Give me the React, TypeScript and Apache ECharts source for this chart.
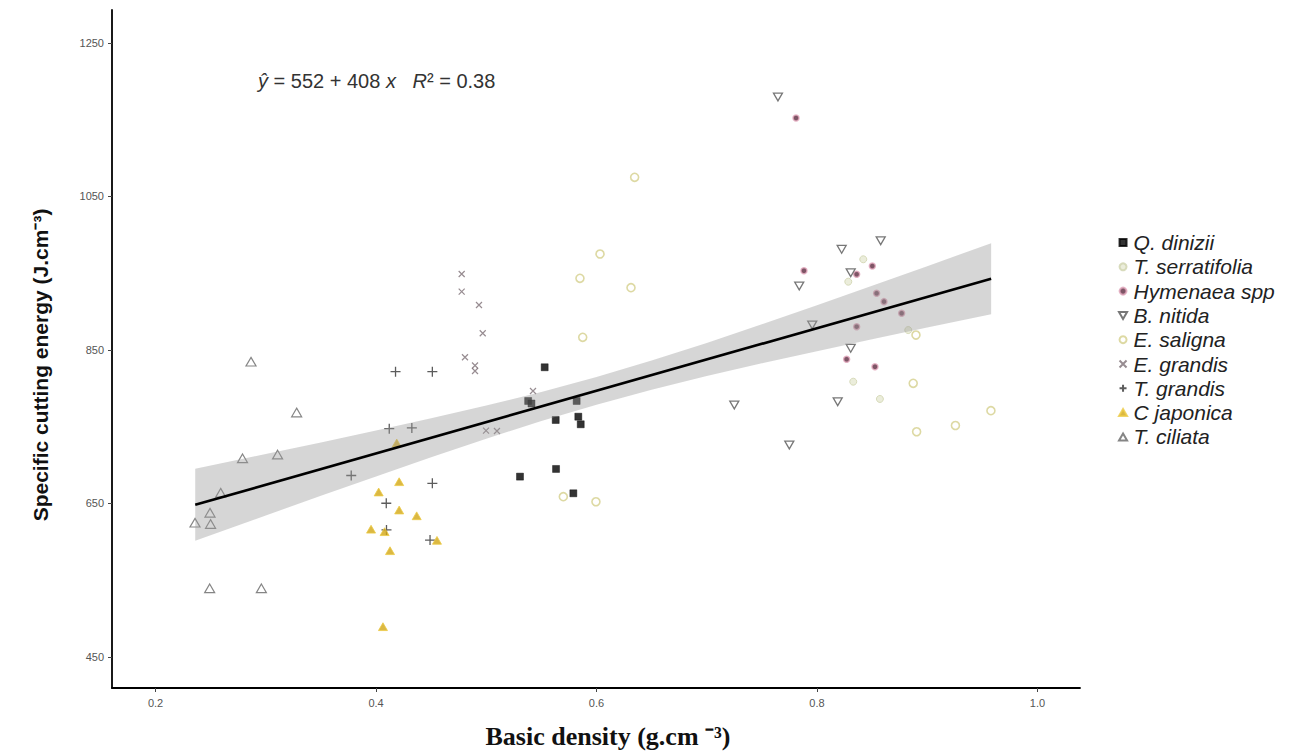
import React, { useEffect, useRef } from "react";
import * as echarts from "echarts";

// ---- data ----
const qDinizii = [[0.553, 827.5], [0.538, 783.6], [0.541, 780.3], [0.582, 783.6], [0.563, 758.8], [0.5835, 763.1], [0.5857, 753.2], [0.5306, 685], [0.5633, 695], [0.579, 663.3]];
const tSerratifolia = [[0.842, 968.2], [0.8284, 939], [0.8828, 876], [0.8329, 808.7], [0.8571, 786.2]];
const hymenaea = [[0.781, 1152.3], [0.7882, 953.3], [0.8502, 959.4], [0.836, 948.6], [0.8541, 923.9], [0.8608, 913], [0.8768, 897.8], [0.836, 880.4], [0.8269, 837.9], [0.8526, 828.2]];
const bNitida = [[0.7646, 1179.6], [0.8224, 981.2], [0.8578, 992.4], [0.7839, 933.4], [0.8306, 950.7], [0.7957, 882.6], [0.8306, 852.2], [0.725, 778.3], [0.8188, 782.6], [0.7749, 726.2]];
const eSaligna = [[0.6346, 1075], [0.6032, 975.1], [0.585, 943.4], [0.6313, 931.2], [0.5875, 866.5], [0.5699, 658.9], [0.5995, 652.3], [0.8898, 869.5], [0.8873, 806.6], [0.8904, 743.5], [0.9256, 751.6], [0.9578, 770.9]];
const eGrandis = [[0.4777, 949], [0.4777, 926], [0.4934, 908.6], [0.4968, 871.8], [0.4807, 840.5], [0.4898, 829.8], [0.4898, 822.6], [0.4998, 745], [0.5097, 744.5], [0.5424, 796.6]];
const tGrandis = [[0.4177, 821.7], [0.4511, 821.7], [0.412, 747.5], [0.4325, 748.4], [0.3775, 686.5], [0.4511, 676.3], [0.4093, 650.3], [0.4095, 615.5], [0.449, 602.4]];
const cJaponica = [[0.421, 678.4], [0.4024, 665], [0.421, 641.5], [0.4369, 634], [0.3955, 616.5], [0.4078, 613.3], [0.4127, 588.5], [0.4553, 602], [0.4063, 489.5], [0.4188, 728.8]];
const tCiliata = [[0.2866, 834.8], [0.328, 768.6], [0.2789, 708.9], [0.3107, 713.8], [0.2591, 664], [0.2358, 625], [0.2494, 638], [0.2499, 623.3], [0.2491, 539.5], [0.296, 539.5]];

// fitted line and its confidence band
const fitX = [0.236, 0.958];
const fitY = [648.3, 942.9];
const bandX = [0.236, 0.3, 0.35, 0.4, 0.45, 0.5, 0.55, 0.6, 0.65, 0.7, 0.75, 0.8, 0.85, 0.9, 0.958];
const bandLower = [601.3, 634.4, 660.0, 685.3, 710.2, 734.4, 757.4, 778.8, 798.2, 816.0, 832.6, 848.5, 864.0, 879.2, 896.6];
const bandUpper = [695.3, 714.4, 729.6, 745.1, 761.0, 777.6, 795.4, 814.8, 836.2, 859.2, 883.4, 908.3, 933.6, 959.2, 989.2];

const xTicks = [0.2, 0.4, 0.6, 0.8, 1.0];
const yTicks = [450, 650, 850, 1050, 1250];
const X_MIN = 0.1605;
const X_MAX = 1.0386;
const Y_MIN = 409.6;
const Y_MAX = 1293;

const SQUARE = "path://M0,0L10,0L10,10L0,10Z";
const CROSS = "path://M0,0L10,10M10,0L0,10";
const PLUS = "path://M5,0L5,10M0,5L10,5";
const DOWN_TRI = "path://M0,0L10,0L5,8.66Z";
const UP_TRI = "path://M5,0L10,8.66L0,8.66Z";

export default function App() {
  const ref = useRef<HTMLDivElement>(null);

  useEffect(() => {
    document.body.style.margin = "0";
    if (!ref.current) return;
    const chart = echarts.init(ref.current, null, { renderer: "svg" });

    const scatter = (name: string, data: number[][], symbol: string, size: number, itemStyle: any) => ({
      name,
      type: "scatter",
      data,
      symbol,
      symbolSize: size,
      symbolKeepAspect: true,
      itemStyle,
      z: 2,
    });

    const option: any = {
      animation: false,
      backgroundColor: "#ffffff",
      grid: { left: 112, top: 10, width: 968, height: 678, outerBoundsMode: "none" },
      xAxis: {
        type: "value",
        min: X_MIN,
        max: X_MAX,
        splitLine: { show: false },
        axisLine: { show: true, onZero: false, lineStyle: { color: "#000", width: 1.8 } },
        axisTick: { show: true, customValues: xTicks, length: 4, lineStyle: { color: "#444", width: 1 } },
        axisLabel: {
          customValues: xTicks,
          formatter: (v: number) => v.toFixed(1),
          color: "#555",
          fontSize: 11,
          margin: 9,
          fontFamily: "Liberation Sans",
        },
      },
      yAxis: {
        type: "value",
        min: Y_MIN,
        max: Y_MAX,
        splitLine: { show: false },
        axisLine: { show: true, onZero: false, lineStyle: { color: "#000", width: 1.8 } },
        axisTick: { show: true, customValues: yTicks, length: 4, lineStyle: { color: "#444", width: 1 } },
        axisLabel: {
          customValues: yTicks,
          formatter: (v: number) => String(v),
          color: "#555",
          fontSize: 11,
          margin: 8,
          fontFamily: "Liberation Sans",
        },
      },
      legend: {
        orient: "vertical",
        left: 1113,
        top: 227,
        itemWidth: 11,
        itemHeight: 7,
        itemGap: 3.3,
        textStyle: { fontFamily: "Liberation Sans", fontStyle: "italic", fontSize: 21, lineHeight: 20, color: "#222" },
        data: ["Q. dinizii", "T. serratifolia", "Hymenaea spp", "B. nitida", "E. saligna", "E. grandis", "T. grandis", "C japonica", "T. ciliata"],
      },
      graphic: [
        {
          type: "text",
          left: 258,
          top: 71,
          style: {
            text: "{i|ŷ} = 552 + 408 {i|x}   {i|R}² = 0.38",
            font: "20px Liberation Sans",
            fill: "#333",
            rich: {
              i: { fontStyle: "italic", fontSize: 20, fontFamily: "Liberation Sans", fill: "#333" },
            },
          },
        },
        {
          type: "text",
          x: 608,
          y: 736,
          style: {
            text: "Basic density (g.cm ⁻³)",
            font: "bold 26px Liberation Serif",
            fill: "#111",
            align: "center",
            verticalAlign: "middle",
          },
        },
        {
          type: "text",
          x: 40,
          y: 365,
          rotation: Math.PI / 2,
          style: {
            text: "Specific cutting energy (J.cm⁻³)",
            font: "bold 21px Liberation Sans",
            fill: "#111",
            align: "center",
            verticalAlign: "middle",
          },
        },
      ],
      series: [
        scatter("Q. dinizii", qDinizii, SQUARE, 7, { color: "#000", borderColor: "#000", borderWidth: 0.5 }),
        scatter("T. serratifolia", tSerratifolia, "circle", 7, { color: "#e6e8d2", borderColor: "#cfd3ae", borderWidth: 1 }),
        scatter("Hymenaea spp", hymenaea, "circle", 6, { color: "#5e2a40", borderColor: "#e2a6bb", borderWidth: 1.5 }),
        scatter("B. nitida", bNitida, DOWN_TRI, 9, { color: "#ffffff", borderColor: "#555", borderWidth: 1.3 }),
        scatter("E. saligna", eSaligna, "circle", 8, { color: "#ffffff", borderColor: "#d4cf8c", borderWidth: 1.6 }),
        scatter("E. grandis", eGrandis, CROSS, 6, { color: "#7d6f76", borderColor: "#7d6f76", borderWidth: 1.2 }),
        scatter("T. grandis", tGrandis, PLUS, 10, { color: "#333", borderColor: "#333", borderWidth: 1.3 }),
        scatter("C japonica", cJaponica, UP_TRI, 9, { color: "#d2a614", borderColor: "#eccb45", borderWidth: 1 }),
        scatter("T. ciliata", tCiliata, UP_TRI, 10, { color: "#ffffff", borderColor: "#666", borderWidth: 1.2 }),
        {
          name: "band",
          type: "custom",
          silent: true,
          z: 3,
          data: [[0.6, 800]],
          renderItem: (_params: any, api: any) => {
            const pts: number[][] = [];
            for (let i = 0; i < bandX.length; i++) pts.push(api.coord([bandX[i], bandUpper[i]]));
            for (let i = bandX.length - 1; i >= 0; i--) pts.push(api.coord([bandX[i], bandLower[i]]));
            return { type: "polygon", shape: { points: pts }, style: { fill: "rgba(153,153,153,0.4)" } };
          },
        },
        {
          name: "fit",
          type: "line",
          silent: true,
          z: 4,
          data: fitX.map((x, i) => [x, fitY[i]]),
          symbol: "none",
          lineStyle: { color: "#000", width: 2.6 },
        },
      ],
    };

    chart.setOption(option);
    return () => chart.dispose();
  }, []);

  return <div ref={ref} style={{ width: 1303, height: 752 }} />;
}
